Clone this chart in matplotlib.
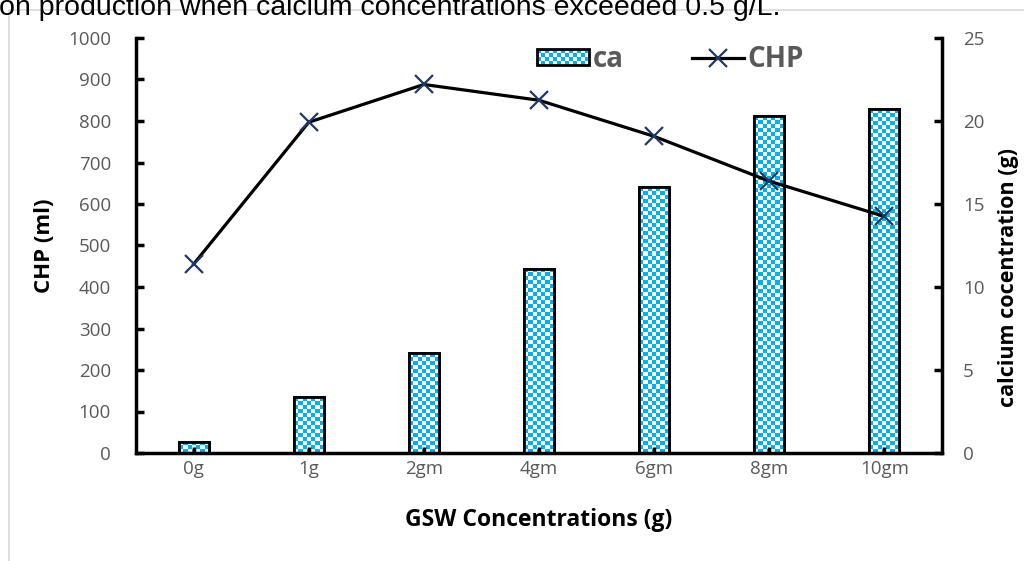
import numpy as np
import matplotlib
matplotlib.use("Agg")
import matplotlib.pyplot as plt
from matplotlib.patches import Rectangle, Patch
from matplotlib.lines import Line2D
from matplotlib.colors import ListedColormap
from matplotlib.legend_handler import HandlerBase

categories = ["0g", "1g", "2gm", "4gm", "6gm", "8gm", "10gm"]
ca_values = [0.68, 3.35, 6.0, 11.1, 16.0, 20.3, 20.7]
chp_values = [455, 797, 888, 850, 763, 655, 570]

W, H, DPI = 1024, 561, 100
fig = plt.figure(figsize=(W / DPI, H / DPI), dpi=DPI)
fig.patch.set_facecolor("white")

font = "Open Sans"
gray = "#595959"
blue = "#00B0F0"
navy = "#1F3864"
cell = 4.0  # checker cell size in pixels

# outer chart frame
fig.patches.append(Rectangle((9 / W, -0.1), 1.2, (H - 10) / H + 0.1, transform=fig.transFigure,
                             facecolor="none", edgecolor="#D9D9D9", lw=1.2))

# caption cropped at the top edge, as in the reference
fig.text(-1 / W, 1 - 15 / H, "on production when calcium concentrations exceeded 0.5 g/L.",
         family="Liberation Sans", fontsize=20.5, color="black", va="baseline", ha="left")

ax = fig.add_axes([136 / W, 1 - 453 / H, (942 - 136) / W, (453 - 38) / H])
ax2 = ax.twinx()
x = np.arange(len(categories))

ax2.set_ylim(0, 25)
ax.set_ylim(0, 1000)
ax.set_xlim(-0.5, len(categories) - 0.5)
bars = ax2.bar(x, ca_values, width=0.26, facecolor=blue, edgecolor="black", lw=2, zorder=2)

fig.canvas.draw()
cmap = ListedColormap(["white", blue])
for b in bars:
    x0, y0, w, h = b.get_x(), b.get_y(), b.get_width(), b.get_height()
    p0 = ax2.transData.transform((x0, y0))
    p1 = ax2.transData.transform((x0 + w, y0 + h))
    nx = max(1, int(round(abs(p1[0] - p0[0]) / cell)))
    ny = max(1, int(round(abs(p1[1] - p0[1]) / cell)))
    ii, jj = np.indices((ny, nx))
    chk = ((ii + jj) % 2).astype(float)
    im = ax2.imshow(chk, extent=(x0, x0 + w, y0, y0 + h), origin="lower", cmap=cmap,
                    interpolation="nearest", aspect="auto", zorder=2.5)
    im.set_clip_path(b)
    ax2.add_patch(Rectangle((x0, y0), w, h, facecolor="none", edgecolor="black",
                            lw=2, zorder=3))

ax2.set_xlim(-0.5, len(categories) - 0.5)
ax2.set_ylim(0, 25)

ax.set_zorder(ax2.get_zorder() + 1)
ax.patch.set_visible(False)
ax.plot(x, chp_values, color="black", lw=2.3, zorder=4)
ax.plot(x, chp_values, linestyle="none", marker="x", ms=13, mew=1.6, color=navy, zorder=5)

for a in (ax, ax2):
    for s in a.spines.values():
        s.set_visible(False)
for s in (ax.spines["left"], ax.spines["bottom"], ax2.spines["right"]):
    s.set_visible(True)
    s.set_linewidth(2.5)
    s.set_color("black")

ax.set_yticks(np.arange(0, 1001, 100))
ax2.set_yticks(np.arange(0, 26, 5))
ax.set_xticks(x)
ax.set_xticklabels(categories)
ax.tick_params(axis="y", direction="in", length=6, width=2.5, color="black",
               labelsize=13.5, labelcolor=gray, pad=18)
ax2.tick_params(axis="y", direction="in", length=6, width=2.5, color="black",
                labelsize=13.5, labelcolor=gray, pad=15)
ax.tick_params(axis="x", direction="in", length=4, width=2.5, color="black",
               labelsize=13.5, labelcolor=gray, pad=5)
ax2.tick_params(axis="x", bottom=False, labelbottom=False)
for lab in ax.get_yticklabels() + ax.get_xticklabels() + ax2.get_yticklabels():
    lab.set_family(font)

ax.set_ylabel("CHP (ml)", family=font, fontweight="bold", fontsize=16, labelpad=9)
ax2.set_ylabel("calcium cocentration (g)", family=font, fontweight="bold", fontsize=15.5,
               labelpad=10)
ax2.yaxis.label.set_y(0.424)
ax.set_xlabel("GSW Concentrations (g)", family=font, fontweight="bold", fontsize=16.5,
              labelpad=22)


class CheckerHandler(HandlerBase):
    def create_artists(self, legend, orig_handle, xdescent, ydescent, width, height,
                       fontsize, trans):
        arts = [Rectangle((-xdescent, -ydescent), width, height, facecolor="white",
                          edgecolor="none", transform=trans)]
        c = cell * 72.0 / DPI
        nx = int(round(width / c))
        ny = int(round(height / c))
        cw, ch = width / nx, height / ny
        for i in range(ny):
            for j in range(nx):
                if (i + j) % 2:
                    arts.append(Rectangle((-xdescent + j * cw, -ydescent + i * ch), cw, ch,
                                          facecolor=blue, edgecolor="none", transform=trans))
        arts.append(Rectangle((-xdescent, -ydescent), width, height, facecolor="none",
                              edgecolor="black", lw=2, transform=trans))
        return arts


ca_handle = Patch(facecolor=blue, edgecolor="black")
chp_handle = Line2D([0], [0], color="black", lw=2.3, marker="x", ms=13, mew=1.6,
                    markeredgecolor=navy)
leg = ax.legend([ca_handle, chp_handle], ["ca", "CHP"], loc="center",
                bbox_to_anchor=(0.663, 0.949), ncol=2, frameon=False,
                columnspacing=2.45, handlelength=1.87, handleheight=0.54, handletextpad=0.12,
                handler_map={Patch: CheckerHandler()},
                prop={"family": font, "weight": "bold", "size": 20})
for t in leg.get_texts():
    t.set_color(gray)

fig.savefig("out.png", dpi=DPI)
